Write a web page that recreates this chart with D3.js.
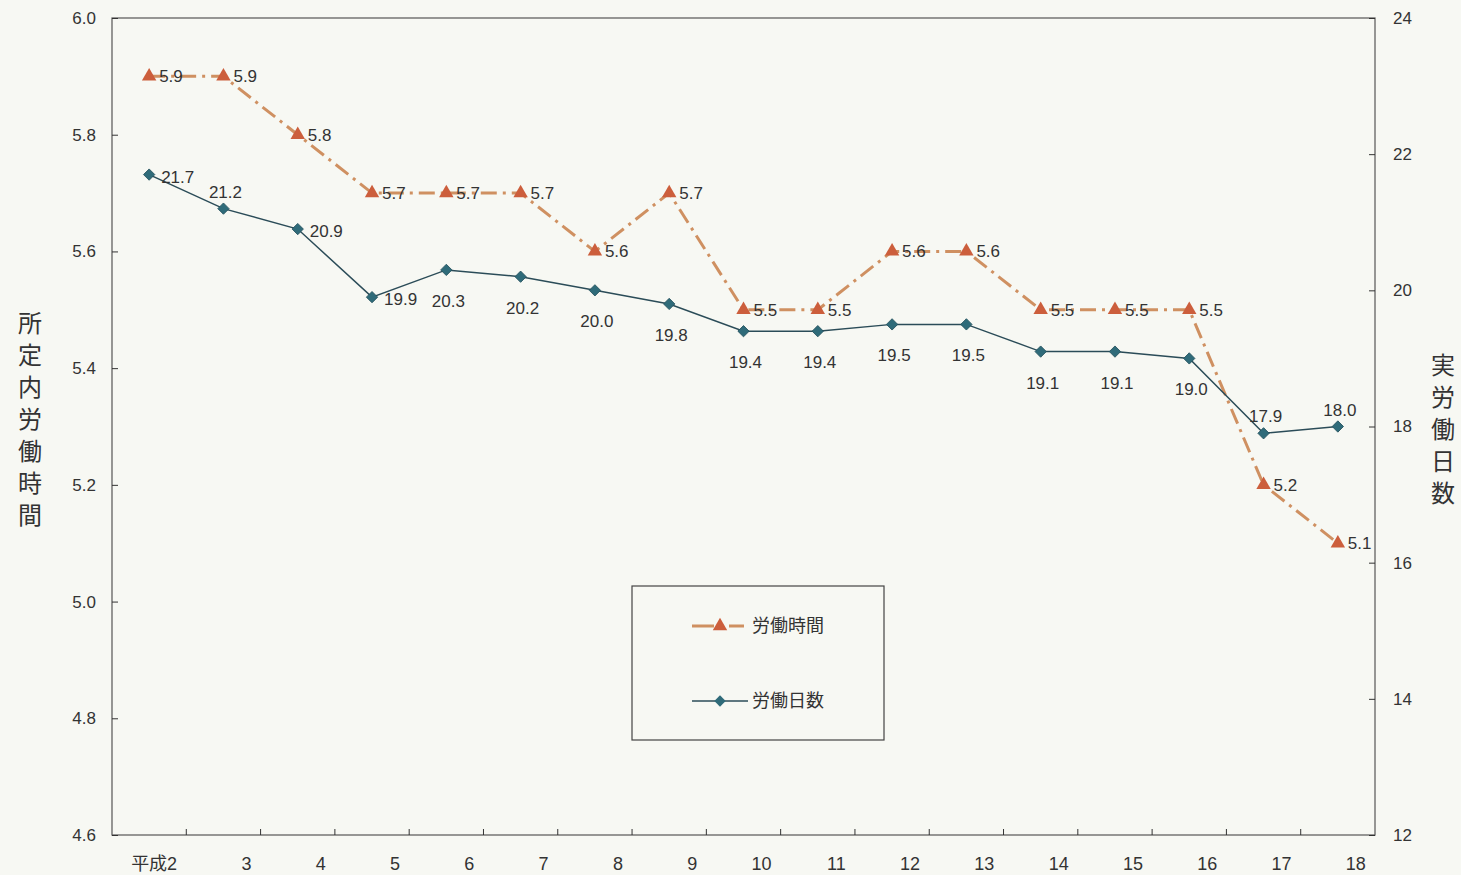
<!DOCTYPE html>
<html>
<head>
<meta charset="utf-8">
<script src="https://cdn.jsdelivr.net/npm/d3@7"></script>
<style>
  body { margin: 0; background: #f7f8f3; }
  svg { display: block; font-family: "Liberation Sans", "Noto Sans CJK JP", sans-serif; }
</style>
</head>
<body>
<script>
// categories (years)
const years = ["平成2", "3", "4", "5", "6", "7", "8", "9", "10", "11", "12", "13", "14", "15", "16", "17", "18"];
// 労働時間 (left axis)
const hours = [5.9, 5.9, 5.8, 5.7, 5.7, 5.7, 5.6, 5.7, 5.5, 5.5, 5.6, 5.6, 5.5, 5.5, 5.5, 5.2, 5.1];
// 労働日数 (right axis)
const days = [21.7, 21.2, 20.9, 19.9, 20.3, 20.2, 20.0, 19.8, 19.4, 19.4, 19.5, 19.5, 19.1, 19.1, 19.0, 17.9, 18.0];
const leftTicks = [4.6, 4.8, 5.0, 5.2, 5.4, 5.6, 5.8, 6.0];
const rightTicks = [12, 14, 16, 18, 20, 22, 24];
// where each day label sits relative to its marker
const dayLabelPos = ["r", "a", "r", "r", "b", "b", "b", "b", "b", "b", "b", "b", "b", "b", "b", "a", "a"];

const w = 1461, h = 875;
const margin = { top: 18, right: 86, bottom: 40, left: 112 };
const font = "'Liberation Sans', 'Noto Sans CJK JP', sans-serif";

const svg = d3.select("body").append("svg")
    .attr("width", w)
    .attr("height", h);

// scales
const x = d3.scaleBand()
    .domain(years)
    .range([margin.left, w - margin.right]);
const cx = d => x(d) + x.bandwidth() / 2;
const yL = d3.scaleLinear().domain([4.6, 6.0]).range([h - margin.bottom, margin.top]);
const yR = d3.scaleLinear().domain([12, 24]).range([h - margin.bottom, margin.top]);

const axisColor = "#333";

// frame
svg.append("rect")
    .attr("x", margin.left).attr("y", margin.top)
    .attr("width", w - margin.left - margin.right)
    .attr("height", h - margin.top - margin.bottom)
    .attr("fill", "none")
    .attr("stroke", "#555")
    .attr("stroke-width", 1.2);

// left axis
const leftAxis = svg.append("g")
    .attr("transform", `translate(${margin.left},0)`)
    .call(d3.axisRight(yL).tickValues(leftTicks).tickFormat(d3.format(".1f")).tickSize(6));
leftAxis.attr("font-size", null).attr("font-family", null);
leftAxis.select(".domain").remove();
leftAxis.selectAll("line").attr("stroke", axisColor);
leftAxis.selectAll("text")
    .attr("x", -16)
    .attr("text-anchor", "end")
    .style("font-size", "17px")
    .style("font-family", font)
    .attr("fill", "#333");

// right axis
const rightAxis = svg.append("g")
    .attr("transform", `translate(${w - margin.right},0)`)
    .call(d3.axisLeft(yR).tickValues(rightTicks).tickSize(6));
rightAxis.attr("font-size", null).attr("font-family", null);
rightAxis.select(".domain").remove();
rightAxis.selectAll("line").attr("stroke", axisColor);
rightAxis.selectAll("text")
    .attr("x", 18)
    .attr("text-anchor", "start")
    .style("font-size", "17px")
    .style("font-family", font)
    .attr("fill", "#333");

// bottom axis: ticks on category boundaries, pointing up
svg.append("g")
    .selectAll("line")
    .data(years.slice(1))
    .enter()
    .append("line")
    .attr("x1", d => x(d)).attr("x2", d => x(d))
    .attr("y1", h - margin.bottom).attr("y2", h - margin.bottom - 6)
    .attr("stroke", axisColor);

svg.append("g")
    .selectAll("text")
    .data(years)
    .enter()
    .append("text")
    .attr("x", d => cx(d) + 28)
    .attr("y", h - 5)
    .attr("text-anchor", "end")
    .style("font-size", "18px")
    .attr("fill", "#333")
    .text(d => d);

// axis titles (vertical)
const leftTitle = "所定内労働時間".split("");
svg.append("g").selectAll("text")
    .data(leftTitle)
    .enter()
    .append("text")
    .attr("x", 30)
    .attr("y", (d, i) => 332 + i * 32)
    .attr("text-anchor", "middle")
    .attr("font-size", 24)
    .attr("font-family", "Noto Sans CJK JP")
    .attr("fill", "#333")
    .text(d => d);

const rightTitle = "実労働日数".split("");
svg.append("g").selectAll("text")
    .data(rightTitle)
    .enter()
    .append("text")
    .attr("x", 1443)
    .attr("y", (d, i) => 374 + i * 32)
    .attr("text-anchor", "middle")
    .attr("font-size", 24)
    .attr("font-family", "Noto Sans CJK JP")
    .attr("fill", "#333")
    .text(d => d);

// colours
const hourLine = "#cf9061", hourMark = "#cc5e3c";
const dayLine = "#2b4c58", dayMark = "#2f6b79";
const dashes = "16,6,3,6";

// 労働時間 line
svg.append("path")
    .datum(hours)
    .attr("fill", "none")
    .attr("stroke", hourLine)
    .attr("stroke-width", 3)
    .attr("stroke-dasharray", dashes)
    .attr("d", d3.line().x((d, i) => cx(years[i])).y(d => yL(d)));

// 労働日数 line
svg.append("path")
    .datum(days)
    .attr("fill", "none")
    .attr("stroke", dayLine)
    .attr("stroke-width", 1.5)
    .attr("d", d3.line().x((d, i) => cx(years[i])).y(d => yR(d)));

const tri = d3.symbol().type(d3.symbolTriangle).size(90);
const dia = d3.symbol().type(d3.symbolSquare).size(64);

svg.append("g").selectAll("path")
    .data(hours)
    .enter()
    .append("path")
    .attr("d", tri)
    .attr("transform", (d, i) => `translate(${cx(years[i])},${yL(d)})`)
    .attr("fill", hourMark);

svg.append("g").selectAll("path")
    .data(days)
    .enter()
    .append("path")
    .attr("d", dia)
    .attr("transform", (d, i) => `translate(${cx(years[i])},${yR(d)}) rotate(45)`)
    .attr("fill", dayMark)
    .attr("stroke", "#24505c")
    .attr("stroke-width", 0.8);

// value labels
svg.append("g").selectAll("text")
    .data(hours)
    .enter()
    .append("text")
    .attr("x", (d, i) => cx(years[i]) + 10)
    .attr("y", d => yL(d) + 6)
    .style("font-size", "17px")
    .attr("fill", "#333")
    .text(d => d.toFixed(1));

svg.append("g").selectAll("text")
    .data(days)
    .enter()
    .append("text")
    .attr("x", (d, i) => {
        const p = dayLabelPos[i];
        return p === "r" ? cx(years[i]) + 12 : cx(years[i]) + 2;
    })
    .attr("y", (d, i) => {
        const p = dayLabelPos[i];
        if (p === "r") return yR(d) + 8;
        if (p === "a") return yR(d) - 11;
        return yR(d) + 37;
    })
    .attr("text-anchor", (d, i) => dayLabelPos[i] === "r" ? "start" : "middle")
    .style("font-size", "17px")
    .attr("fill", "#333")
    .text(d => d.toFixed(1));

// legend
const lg = svg.append("g").attr("transform", "translate(632,586)");
lg.append("rect")
    .attr("width", 252).attr("height", 154)
    .attr("fill", "#f7f8f3")
    .attr("stroke", "#444")
    .attr("stroke-width", 1.2);
lg.append("line")
    .attr("x1", 60).attr("x2", 112).attr("y1", 40).attr("y2", 40)
    .attr("stroke", hourLine).attr("stroke-width", 3).attr("stroke-dasharray", "22,6,3,6");
lg.append("path").attr("d", tri).attr("transform", "translate(88,40)").attr("fill", hourMark);
lg.append("text").attr("x", 120).attr("y", 46).attr("font-size", 18)
    .attr("font-family", "Noto Sans CJK JP").attr("fill", "#333").text("労働時間");
lg.append("line")
    .attr("x1", 60).attr("x2", 116).attr("y1", 115).attr("y2", 115)
    .attr("stroke", dayLine).attr("stroke-width", 1.5);
lg.append("path").attr("d", dia).attr("transform", "translate(88,115) rotate(45)").attr("fill", dayMark);
lg.append("text").attr("x", 120).attr("y", 121).attr("font-size", 18)
    .attr("font-family", "Noto Sans CJK JP").attr("fill", "#333").text("労働日数");
</script>
</body>
</html>
